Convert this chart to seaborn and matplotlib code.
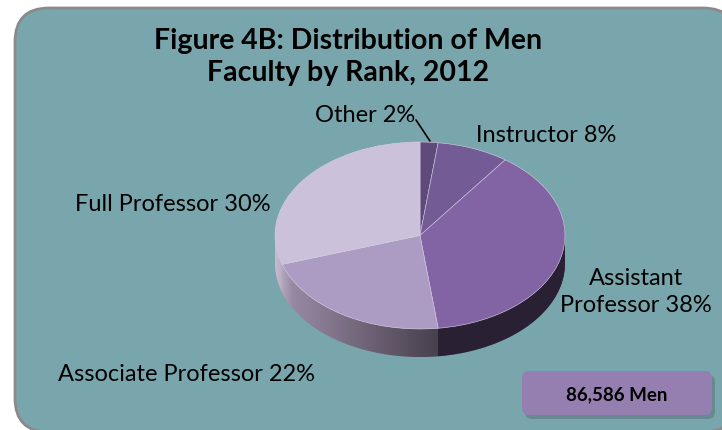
import matplotlib
matplotlib.use("Agg")
import matplotlib.pyplot as plt
from matplotlib.patches import FancyBboxPatch, Polygon
import numpy as np
import seaborn as sns

# data (clockwise from 12 o'clock)
ranks = ["Other", "Instructor", "Assistant\nProfessor", "Associate Professor", "Full Professor"]
shares = [2, 8, 38, 22, 30]
top_colors = ["#5f4a7c", "#735b96", "#8264a4", "#ac9cc3", "#cbc1da"]
side_colors = ["#4a3a60", "#52406b", "#5c4875", "#a191ad", "#a898b3"]
title = "Figure 4B: Distribution of Men\nFaculty by Rank, 2012"
total_label = "86,586 Men"

sns.set_theme(style="white")
plt.rcParams['font.family'] = ['Lato', 'DejaVu Sans']

fig = plt.figure(figsize=(7.22, 4.31), dpi=100)
fig.patch.set_facecolor("white")

# background panel in pixel coordinates
bg = fig.add_axes([0, 0, 1, 1])
bg.set_xlim(0, 722)
bg.set_ylim(431, 0)
bg.axis("off")
bg.add_patch(FancyBboxPatch((15, 9), 722, 424, boxstyle="round,pad=0,rounding_size=34",
                            facecolor="#79a6ad", edgecolor="#8a8a8a", linewidth=2))

# title
bg.text(348, 57, title, ha="center", va="center", fontsize=20.5, fontweight="bold",
        linespacing=1.3, color="black")

# pie axes (ellipse via non-equal aspect)
depth = 0.30
ax = fig.add_axes([0.3608, 0.1259, 0.4418, 0.564])
ax.patch.set_alpha(0)

# side of the 3d pie, stacked layers
n_layers = 30
for k in range(n_layers, 0, -1):
    ax.pie(shares, colors=side_colors, startangle=90, counterclock=False,
           center=(0, -depth * k / n_layers), radius=1,
           wedgeprops=dict(linewidth=0))

# shading gradient on the side
t = np.linspace(np.pi, 2 * np.pi, 200)
band = np.concatenate([np.c_[np.cos(t), np.sin(t)],
                       np.c_[np.cos(t[::-1]), np.sin(t[::-1]) - depth]])
clip = Polygon(band, closed=True, transform=ax.transData, facecolor="none", edgecolor="none")
ax.add_patch(clip)
gx = np.linspace(-1, 1, 300)
alpha = np.clip((gx + 1) / 1.1, 0, 1) * 0.55
grad = np.zeros((2, 300, 4))
grad[..., 3] = alpha
im = ax.imshow(grad, extent=(-1, 1, -1 - depth, 0), aspect="auto", zorder=5)
im.set_clip_path(clip)
# light highlight on the far left edge
hl = np.zeros((2, 300, 4))
hl[..., :3] = 1
hl[..., 3] = np.clip(1 - (gx + 1) / 0.12, 0, 1) * 0.35
im2 = ax.imshow(hl, extent=(-1, 1, -1 - depth, 0), aspect="auto", zorder=5)
im2.set_clip_path(clip)

# top face
wedges, _ = ax.pie(shares, colors=top_colors, startangle=90, counterclock=False,
                   radius=1, wedgeprops=dict(linewidth=0.4, edgecolor="#d8d0e2"))
for w in wedges:
    w.set_zorder(10)

ax.set_aspect("auto")
ax.set_xlim(-1.1, 1.1)
ax.set_ylim(-1.5, 1.1)
ax.axis("off")

# labels
label_pos = [(365, 116), (546, 136), (636, 292), (186, 375), (173, 205)]
for name, val, (x, y) in zip(ranks, shares, label_pos):
    bg.text(x, y, f"{name} {val}%", ha="center", va="center", fontsize=17,
            color="black", linespacing=1.3)
bg.plot([416, 430], [121, 142], color="black", linewidth=1.2)

# total box with shadow
bg.add_patch(FancyBboxPatch((525, 376), 190, 44, boxstyle="round,pad=0,rounding_size=7",
                            facecolor="#5d7f86", edgecolor="none", alpha=0.7))
bg.add_patch(FancyBboxPatch((522, 372), 190, 44, boxstyle="round,pad=0,rounding_size=7",
                            facecolor="#957fb0", edgecolor="none"))
bg.text(617, 395, total_label, ha="center", va="center", fontsize=13.5,
        fontweight="bold", color="black")

fig.savefig("out.png", dpi=100)
